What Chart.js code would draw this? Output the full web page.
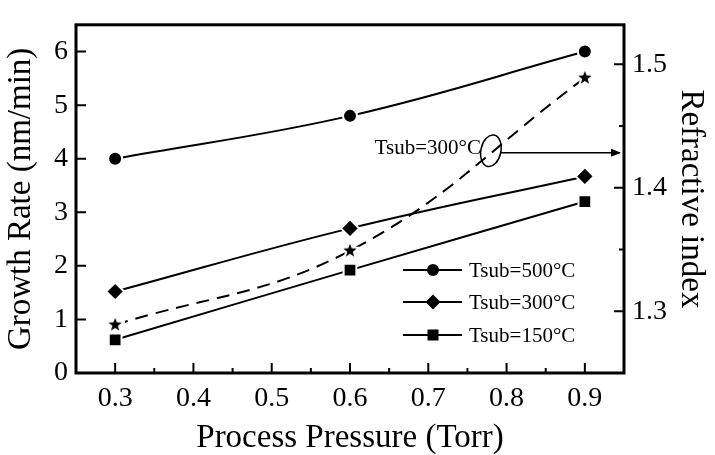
<!DOCTYPE html>
<html lang="en">
<head>
  <meta charset="UTF-8" />
  <title>Growth Rate vs Process Pressure</title>
  <script src="https://cdn.jsdelivr.net/npm/chart.js"></script>
  <style>
    html, body { margin: 0; padding: 0; background: #fff; }
    .wrap { width: 715px; height: 455px; }
  </style>
</head>
<body>
  <div class="wrap"><canvas id="rateChart" width="715" height="455"></canvas></div>

  <script>
    // data
    const pressure = [0.3, 0.6, 0.9];
    const rate500 = [4.0, 4.8, 6.0];
    const rate300 = [1.52, 2.7, 3.67];
    const rate150 = [0.62, 1.92, 3.2];
    const refr300 = [1.289, 1.349, 1.489];

    const xTicks = [0.3, 0.4, 0.5, 0.6, 0.7, 0.8, 0.9];
    const xMinor = [0.35, 0.45, 0.55, 0.65, 0.75, 0.85];
    const yTicks = [0, 1, 2, 3, 4, 5, 6];
    const y2Ticks = [1.3, 1.4, 1.5];
    const y2Minor = [1.35, 1.45];

    const seriesLabels = ['Tsub=500\u00b0C', 'Tsub=300\u00b0C', 'Tsub=150\u00b0C'];
    const noteLabel = 'Tsub=300\u00b0C';

    const serif = "'Liberation Serif', 'Times New Roman', serif";

    function pts(ys) {
      return pressure.map((x, i) => ({ x: x, y: ys[i] }));
    }

    // filled five-point star used for the refractive index points
    function makeStar(r) {
      const size = Math.ceil(r * 2 + 6);
      const c = document.createElement('canvas');
      c.width = size; c.height = size;
      const g = c.getContext('2d');
      const cx = size / 2, cy = size / 2;
      g.beginPath();
      for (let i = 0; i < 10; i++) {
        const rr = i % 2 === 0 ? r : r * 0.42;
        const a = -Math.PI / 2 + i * Math.PI / 5;
        const px = cx + rr * Math.cos(a), py = cy + rr * Math.sin(a);
        if (i === 0) g.moveTo(px, py); else g.lineTo(px, py);
      }
      g.closePath();
      g.lineWidth = 4;
      g.strokeStyle = '#fff';
      g.stroke();
      g.fillStyle = '#000';
      g.fill();
      return c;
    }

    function drawMarker(ctx, style, x, y, r) {
      ctx.fillStyle = '#000';
      ctx.beginPath();
      if (style === 'circle') {
        ctx.arc(x, y, r, 0, Math.PI * 2);
      } else if (style === 'rectRot') {
        ctx.moveTo(x, y - r); ctx.lineTo(x + r, y); ctx.lineTo(x, y + r); ctx.lineTo(x - r, y);
        ctx.closePath();
      } else {
        ctx.rect(x - r, y - r, r * 2, r * 2);
      }
      ctx.fill();
    }

    // frame, inward ticks, legend and the arrow note
    const decorations = {
      id: 'decorations',
      afterDatasetsDraw(chart) {
        const ctx = chart.ctx;
        const a = chart.chartArea;
        const xs = chart.scales.x, ys = chart.scales.y, y2 = chart.scales.y2;
        ctx.save();
        ctx.strokeStyle = '#000';

        // ticks pointing into the plot
        ctx.lineWidth = 2;
        ctx.beginPath();
        xTicks.forEach(v => { const p = xs.getPixelForValue(v); ctx.moveTo(p, a.bottom); ctx.lineTo(p, a.bottom - 10); });
        xMinor.forEach(v => { const p = xs.getPixelForValue(v); ctx.moveTo(p, a.bottom); ctx.lineTo(p, a.bottom - 5); });
        yTicks.forEach(v => { const p = ys.getPixelForValue(v); ctx.moveTo(a.left, p); ctx.lineTo(a.left + 10, p); });
        y2Ticks.forEach(v => { const p = y2.getPixelForValue(v); ctx.moveTo(a.right, p); ctx.lineTo(a.right - 10, p); });
        y2Minor.forEach(v => { const p = y2.getPixelForValue(v); ctx.moveTo(a.right, p); ctx.lineTo(a.right - 5, p); });
        ctx.stroke();

        // frame
        ctx.lineWidth = 3;
        ctx.strokeRect(a.left, a.top, a.right - a.left, a.bottom - a.top);

        // legend
        const styles = ['circle', 'rectRot', 'rect'];
        const sizes = [6, 7.5, 5.5];
        const rowY = [270, 302, 335];
        ctx.font = '21px ' + serif;
        ctx.textBaseline = 'middle';
        ctx.textAlign = 'left';
        ctx.fillStyle = '#000';
        seriesLabels.forEach((lab, i) => {
          const y = rowY[i];
          ctx.lineWidth = 2;
          ctx.beginPath();
          ctx.moveTo(403, y); ctx.lineTo(462, y);
          ctx.stroke();
          drawMarker(ctx, styles[i], 433, y, sizes[i]);
          ctx.fillStyle = '#000';
          ctx.fillText(lab, 469, y + 1);
        });

        // note: ellipse around the dashed curve with an arrow to the right axis
        const ex = xs.getPixelForValue(0.78);
        const ey = y2.getPixelForValue(1.43);
        ctx.lineWidth = 1.5;
        ctx.beginPath();
        ctx.ellipse(ex, ey, 10, 16, 0.2, 0, Math.PI * 2);
        ctx.stroke();
        ctx.beginPath();
        ctx.moveTo(ex + 10, ey + 2);
        ctx.lineTo(a.right - 4, ey + 2);
        ctx.stroke();
        ctx.beginPath();
        ctx.moveTo(a.right - 3, ey + 2);
        ctx.lineTo(a.right - 13, ey - 2);
        ctx.lineTo(a.right - 13, ey + 6);
        ctx.closePath();
        ctx.fill();
        ctx.textAlign = 'right';
        ctx.fillText(noteLabel, ex - 10, ey - 2);
        ctx.restore();
      }
    };

    const ctx = document.getElementById('rateChart').getContext('2d');
    new Chart(ctx, {
      type: 'line',
      data: {
        datasets: [
          {
            label: seriesLabels[0], data: pts(rate500), yAxisID: 'y',
            borderColor: '#000', borderWidth: 2, tension: 0.4,
            pointStyle: 'circle', pointRadius: 7, pointBackgroundColor: '#000',
            pointBorderColor: '#fff', pointBorderWidth: 2
          },
          {
            label: seriesLabels[1], data: pts(rate300), yAxisID: 'y',
            borderColor: '#000', borderWidth: 2, tension: 0.4,
            pointStyle: 'rectRot', pointRadius: 9, pointBackgroundColor: '#000',
            pointBorderColor: '#fff', pointBorderWidth: 2
          },
          {
            label: seriesLabels[2], data: pts(rate150), yAxisID: 'y',
            borderColor: '#000', borderWidth: 2, tension: 0.4,
            pointStyle: 'rect', pointRadius: 9, pointBackgroundColor: '#000',
            pointBorderColor: '#fff', pointBorderWidth: 2
          },
          {
            label: 'Refractive index', data: pts(refr300), yAxisID: 'y2',
            borderColor: '#000', borderWidth: 2, borderDash: [13, 8], tension: 0.4,
            pointStyle: makeStar(7), pointRadius: 7
          }
        ]
      },
      options: {
        responsive: false,
        animation: false,
        devicePixelRatio: 1,
        layout: { padding: { top: 4, right: 0, left: 0, bottom: 0 } },
        plugins: { legend: { display: false }, tooltip: { enabled: false } },
        scales: {
          x: {
            type: 'linear', min: 0.25, max: 0.95,
            afterBuildTicks: s => { s.ticks = xTicks.map(v => ({ value: v })); },
            afterFit: s => { s.height = 82; },
            grid: { display: false, drawTicks: false },
            border: { display: false },
            ticks: { color: '#000', padding: 9, font: { family: serif, size: 28 }, callback: v => v.toFixed(1) },
            title: { display: true, text: 'Process Pressure (Torr)', color: '#000',
                     font: { family: serif, size: 33, lineHeight: 1 }, padding: 0 }
          },
          y: {
            type: 'linear', position: 'left', min: 0, max: 6.5,
            afterBuildTicks: s => { s.ticks = yTicks.map(v => ({ value: v })); },
            afterFit: s => { s.width = 76; },
            grid: { display: false, drawTicks: false },
            border: { display: false },
            ticks: { color: '#000', padding: 8, font: { family: serif, size: 28 } },
            title: { display: true, text: 'Growth Rate (nm/min)', color: '#000',
                     font: { family: serif, size: 33, lineHeight: 1.2 }, padding: { top: 2, bottom: 0 } }
          },
          y2: {
            type: 'linear', position: 'right', min: 1.25, max: 1.532,
            afterBuildTicks: s => { s.ticks = y2Ticks.map(v => ({ value: v })); },
            afterFit: s => { s.width = 91; },
            grid: { display: false, drawTicks: false },
            border: { display: false },
            ticks: { color: '#000', padding: 8, font: { family: serif, size: 28 }, callback: v => v.toFixed(1) },
            title: { display: true, text: 'Refractive index', color: '#000',
                     font: { family: serif, size: 33, lineHeight: 1.2 }, padding: { top: 5, bottom: 0 } }
          }
        }
      },
      plugins: [decorations]
    });
  </script>
</body>
</html>
